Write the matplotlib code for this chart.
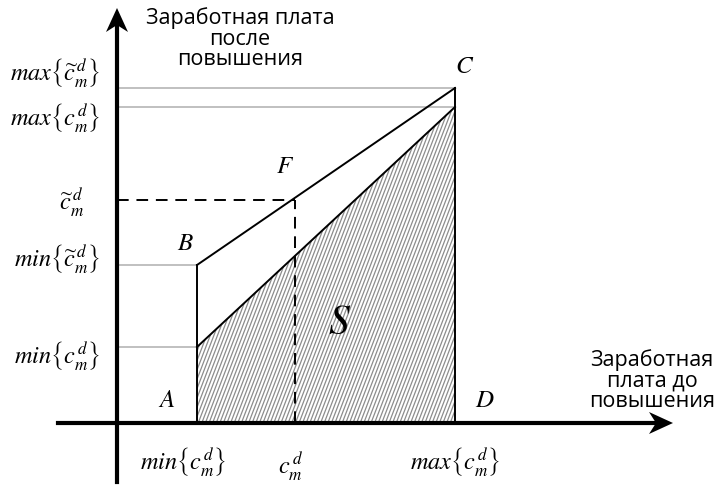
import numpy as np
import matplotlib
matplotlib.use("Agg")
import matplotlib.pyplot as plt
from matplotlib.patches import Polygon

plt.rcParams['mathtext.fontset'] = 'stix'

# values (abstract units, origin at axes crossing)
x_min, x_mid, x_max = 0.80, 1.78, 3.38
y_min_c, y_max_c = 0.76, 3.16          # before raise
y_min_ct, y_max_ct = 1.58, 3.35        # after raise
y_mid_ct = 2.23

y_labels = [r'$max\left\{\widetilde{c}_m^{\,d}\right\}$',
            r'$max\left\{c_m^{\,d}\right\}$',
            r'$\widetilde{c}_m^{\,d}$',
            r'$min\left\{\widetilde{c}_m^{\,d}\right\}$',
            r'$min\left\{c_m^{\,d}\right\}$']
x_labels = [r'$min\left\{c_m^{\,d}\right\}$',
            r'$c_m^{\,d}$',
            r'$max\left\{c_m^{\,d}\right\}$']
points = ['A', 'B', 'C', 'D', 'F']

fig = plt.figure(figsize=(7.19, 4.96), dpi=100)
ax = fig.add_axes([0, 0, 1, 1])
ax.set_xlim(-1.17, 6.02)
ax.set_ylim(-0.73, 4.23)
ax.axis('off')

# shaded area S: steep grey hatching clipped to the polygon
poly = Polygon([(x_min, 0), (x_min, y_min_c), (x_max, y_max_c), (x_max, 0)],
               closed=True, facecolor='white', edgecolor='none', lw=0)
ax.add_patch(poly)
slope = 2.6
for x0 in np.arange(x_min - 1.5, x_max + 0.1, 0.036):
    ln, = ax.plot([x0, x0 + 4 / slope], [0, 4], color='#8c8c8c', lw=0.9)
    ln.set_clip_path(poly)

# grey guide lines
grey = '#b5b5b5'
ax.plot([0, x_max], [y_max_ct, y_max_ct], color=grey, lw=1.2)
ax.plot([0, x_max], [y_max_c, y_max_c], color=grey, lw=1.2)
ax.plot([0, x_min], [y_min_ct, y_min_ct], color=grey, lw=1.2)
ax.plot([0, x_min], [y_min_c, y_min_c], color=grey, lw=1.2)

# main lines
ax.plot([x_min, x_max], [y_min_c, y_max_c], color='k', lw=1.4)
ax.plot([x_min, x_max], [y_min_ct, y_max_ct], color='k', lw=1.4)
ax.plot([x_min, x_min], [0, y_min_ct], color='k', lw=1.4)
ax.plot([x_max, x_max], [0, y_max_ct], color='k', lw=1.4)

# dashed lines
ax.plot([0, x_mid], [y_mid_ct, y_mid_ct], color='k', lw=1.4, ls=(0, (6, 4)))
ax.plot([x_mid, x_mid], [0, y_mid_ct], color='k', lw=1.4, ls=(0, (6, 4)))

# axes with stealth arrows
ax.plot([-0.59, 5.4], [0, 0], color='k', lw=3)
ax.plot([0, 0], [-0.59, 4.0], color='k', lw=3)
hl, hw, notch = 0.24, 0.11, 0.07
ax.add_patch(Polygon([(5.56, 0), (5.56 - hl, hw), (5.56 - hl + notch, 0),
                      (5.56 - hl, -hw)], closed=True, color='k', lw=0))
ax.add_patch(Polygon([(0, 4.15), (hw, 4.15 - hl), (0, 4.15 - hl + notch),
                      (-hw, 4.15 - hl)], closed=True, color='k', lw=0))

# axis titles
sans = 'Open Sans'
ax.text(1.23, 4.16, 'Заработная плата\nпосле\nповышения', ha='center', va='top',
        fontsize=15.5, family=sans, linespacing=0.98)
ax.text(5.35, 0.74, 'Заработная\nплата до\nповышения', ha='center', va='top',
        fontsize=15.5, family=sans, linespacing=0.98)

# y tick labels
serif = dict(fontsize=17.5, color='k')
ax.text(-0.17, 3.51, y_labels[0], ha='right', va='center', **serif)
ax.text(-0.17, 3.06, y_labels[1], ha='right', va='center', **serif)
ax.text(-0.45, 2.20, y_labels[2], ha='center', va='center', **serif)
ax.text(-0.17, 1.65, y_labels[3], ha='right', va='center', **serif)
ax.text(-0.17, 0.68, y_labels[4], ha='right', va='center', **serif)

# x tick labels
ax.text(0.66, -0.39, x_labels[0], ha='center', va='center', **serif)
ax.text(1.74, -0.44, x_labels[1], ha='center', va='center', **serif)
ax.text(3.38, -0.39, x_labels[2], ha='center', va='center', **serif)

# point labels
pt_pos = [(0.50, 0.23), (0.68, 1.80), (3.48, 3.57), (3.68, 0.23), (1.68, 2.57)]
for name, (px, py) in zip(points, pt_pos):
    ax.text(px, py, '$' + name + '$', ha='center', va='center', fontsize=18)
ax.text(2.23, 1.01, '$S$', ha='center', va='center', fontsize=30)

fig.savefig('out.png', dpi=100)
